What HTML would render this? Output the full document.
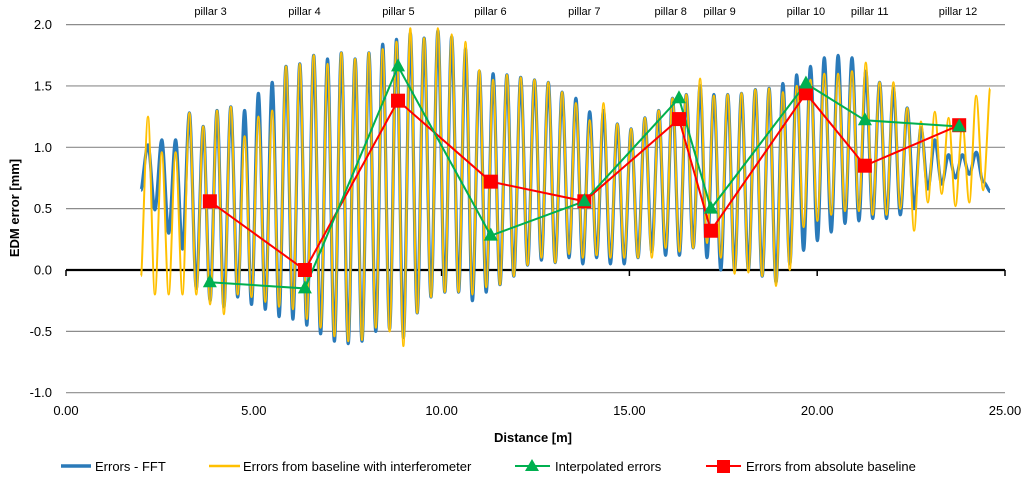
<!DOCTYPE html>
<html><head><meta charset="utf-8"><style>
body{margin:0;background:#fff;}
svg{display:block;font-family:"Liberation Sans",sans-serif;}
</style></head><body>
<svg id="chart" width="1024" height="479" viewBox="0 0 1024 479" xmlns="http://www.w3.org/2000/svg"></svg>
<script>
// ---- data ----
const yTicks = [2.0, 1.5, 1.0, 0.5, 0.0, -0.5, -1.0];
const xTicks = [0, 5, 10, 15, 20, 25];
const pillarNames = ["pillar 3","pillar 4","pillar 5","pillar 6","pillar 7","pillar 8","pillar 9","pillar 10","pillar 11","pillar 12"];
const pillarLabelX = [3.85, 6.35, 8.85, 11.3, 13.8, 16.1, 17.4, 19.7, 21.4, 23.75];
const pillarX = [3.83, 6.36, 8.84, 11.31, 13.8, 16.32, 17.17, 19.7, 21.27, 23.78];
const interpErr = [-0.1, -0.15, 1.66, 0.28, 0.56, 1.40, 0.50, 1.52, 1.22, 1.17];
const absErr = [0.56, 0.0, 1.38, 0.72, 0.56, 1.23, 0.32, 1.44, 0.85, 1.18];
const seriesStart = 2.0, seriesEnd = 24.6;
const yellowStart = -0.05;
const yellowPeaks = [1.25,0.96,0.96,1.28,1.17,1.30,1.33,1.09,1.25,1.30,1.66,1.68,1.75,1.68,1.77,1.72,1.77,1.80,1.86,1.97,1.89,1.97,1.92,
 1.86,1.63,1.55,1.59,1.57,1.55,1.53,1.45,1.36,1.22,1.36,1.19,1.15,1.24,1.30,1.40,1.43,1.56,1.42,1.43,1.44,
 1.47,1.48,1.45,1.50,1.55,1.60,1.60,1.62,1.69,1.53,1.53,1.32,1.21,1.29,1.24,1.20,1.42,1.48];
const yellowTroughs = [-0.2,-0.2,-0.2,-0.2,-0.28,-0.36,-0.2,-0.22,-0.26,-0.30,-0.32,-0.40,-0.47,-0.54,-0.58,-0.57,-0.47,-0.50,-0.62,-0.35,-0.22,-0.18,-0.18,
 -0.2,-0.14,-0.12,-0.05,0.04,0.10,0.06,0.13,0.10,0.12,0.10,0.10,0.10,0.10,0.18,0.15,0.18,0.22,0.10,-0.03,-0.02,
 -0.05,-0.13,0.0,0.35,0.40,0.45,0.48,0.48,0.45,0.45,0.50,0.32,0.55,0.62,0.52,0.55,0.65];
const blueStart = 0.65;
const bluePeaks = [1.02,1.06,1.06,1.28,1.17,1.30,1.33,1.30,1.44,1.53,1.66,1.68,1.75,1.72,1.77,1.72,1.77,1.84,1.88,1.93,1.89,1.95,1.90,
 1.80,1.62,1.60,1.59,1.57,1.55,1.53,1.45,1.40,1.29,1.30,1.19,1.15,1.24,1.30,1.40,1.43,1.50,1.43,1.43,1.44,
 1.47,1.48,1.52,1.59,1.66,1.73,1.75,1.73,1.62,1.53,1.48,1.32,1.16,1.06,0.94,0.94,0.96,0.64];
const blueTroughs = [0.49,0.30,0.17,-0.15,-0.25,-0.30,-0.22,-0.28,-0.32,-0.38,-0.40,-0.45,-0.52,-0.58,-0.60,-0.58,-0.50,-0.48,-0.55,-0.35,-0.22,-0.18,-0.18,
 -0.25,-0.18,-0.12,-0.05,0.04,0.08,0.06,0.10,0.05,0.10,0.05,0.05,0.10,0.15,0.12,0.12,0.18,0.10,0.0,0.0,0.0,
 -0.05,-0.10,0.05,0.16,0.24,0.31,0.38,0.40,0.42,0.42,0.45,0.50,0.66,0.70,0.75,0.78,0.72];

// ---- axes ----
const X = v => 66 + v * 37.56;
const Y = v => 270 - v * 122.7;
const NS = "http://www.w3.org/2000/svg";
const svg = document.getElementById("chart");
function mk(tag, attrs, parent) {
  const e = document.createElementNS(NS, tag);
  for (const k in attrs) e.setAttribute(k, attrs[k]);
  (parent || svg).appendChild(e);
  return e;
}
function seq(start, peaks, troughs) {
  const s = [start];
  for (let i = 0; i < peaks.length; i++) { s.push(peaks[i]); if (i < troughs.length) s.push(troughs[i]); }
  return s;
}
function smoothPath(vals) {
  const n = vals.length, step = (seriesEnd - seriesStart) / (n - 1);
  const p = vals.map((v, i) => [X(seriesStart + i * step), Y(v)]);
  let d = "M" + p[0][0].toFixed(1) + "," + p[0][1].toFixed(1);
  for (let i = 0; i < n - 1; i++) {
    const p0 = p[Math.max(0, i - 1)], p1 = p[i], p2 = p[i + 1], p3 = p[Math.min(n - 1, i + 2)];
    const c1x = p1[0] + (p2[0] - p0[0]) / 6, c2x = p2[0] - (p3[0] - p1[0]) / 6;
    d += "C" + c1x.toFixed(1) + "," + p1[1].toFixed(1) + " " + c2x.toFixed(1) + "," + p2[1].toFixed(1) + " " + p2[0].toFixed(1) + "," + p2[1].toFixed(1);
  }
  return d;
}

yTicks.forEach(t => {
  if (t !== 0) {
    const g = mk("line", {x1: X(0), x2: X(25), y1: Y(t), y2: Y(t), stroke: "#8c8c8c", "stroke-width": 1.2});
    
    
  }
  const l = mk("text", {x: 52, y: Y(t) + 4.5, "text-anchor": "end", "font-size": 13, fill: "#000"});
  l.textContent = t.toFixed(1);
  
  
});
const ax = mk("line", {x1: X(0), x2: X(25), y1: Y(0), y2: Y(0), stroke: "#000", "stroke-width": 2.2});


xTicks.forEach(t => {
  const tk = mk("line", {x1: X(t), x2: X(t), y1: Y(0), y2: Y(0) + 6, stroke: "#000", "stroke-width": 1.5});
  
  
  const l = mk("text", {x: X(t), y: 415, "text-anchor": "middle", "font-size": 13});
  l.textContent = t.toFixed(2);
  
  
});
const xt = mk("text", {x: 533, y: 442, "text-anchor": "middle", "font-size": 13, "font-weight": "bold"});
xt.textContent = "Distance [m]";


const yt = mk("text", {x: 0, y: 0, "text-anchor": "middle", "font-size": 13, "font-weight": "bold", transform: "translate(19,208) rotate(-90)"});
yt.textContent = "EDM error [mm]";



pillarNames.forEach((n, i) => {
  const l = mk("text", {x: X(pillarLabelX[i]), y: 15, "text-anchor": "middle", "font-size": 11});
  l.textContent = n;
  
  
});

const blue = mk("path", {d: smoothPath(seq(blueStart, bluePeaks, blueTroughs)), fill: "none", stroke: "#2a7ab9", "stroke-width": 3.2, "stroke-linejoin": "round"});


const yel = mk("path", {d: smoothPath(seq(yellowStart, yellowPeaks, yellowTroughs)), fill: "none", stroke: "#ffc000", "stroke-width": 2, "stroke-linejoin": "round"});



const rl = mk("polyline", {points: pillarX.map((x, i) => X(x) + "," + Y(absErr[i])).join(" "), fill: "none", stroke: "#ff0000", "stroke-width": 2});


const gl = mk("polyline", {points: pillarX.map((x, i) => X(x) + "," + Y(interpErr[i])).join(" "), fill: "none", stroke: "#00b050", "stroke-width": 2});


pillarX.forEach((x, i) => {
  const cx = X(x), cy = Y(absErr[i]);
  const r = mk("rect", {x: cx - 7, y: cy - 7, width: 14, height: 14, fill: "#ff0000"});
  
  
});
pillarX.forEach((x, i) => {
  const cx = X(x), cy = Y(interpErr[i]);
  const t = mk("polygon", {points: `${cx},${cy - 8} ${cx - 7},${cy + 5} ${cx + 7},${cy + 5}`, fill: "#00b050"});
  
  
});

const lg = mk("g", {});


const e1 = mk("line", {x1: 61, x2: 91, y1: 466, y2: 466, stroke: "#2a7ab9", "stroke-width": 3.5}, lg);


const t1 = mk("text", {x: 95, y: 471, "font-size": 13}, lg); t1.textContent = "Errors - FFT";


const e2 = mk("line", {x1: 209, x2: 240, y1: 466, y2: 466, stroke: "#ffc000", "stroke-width": 2.5}, lg);


const t2 = mk("text", {x: 243, y: 471, "font-size": 13}, lg); t2.textContent = "Errors from baseline with interferometer";


const e3 = mk("line", {x1: 515, x2: 550, y1: 466, y2: 466, stroke: "#00b050", "stroke-width": 2}, lg);


const m3 = mk("polygon", {points: "532,459 525,471 539,471", fill: "#00b050"}, lg);


const t3 = mk("text", {x: 555, y: 471, "font-size": 13}, lg); t3.textContent = "Interpolated errors";


const e4 = mk("line", {x1: 706, x2: 741, y1: 466, y2: 466, stroke: "#ff0000", "stroke-width": 2}, lg);


const m4 = mk("rect", {x: 717, y: 460, width: 13, height: 13, fill: "#ff0000"}, lg);


const t4 = mk("text", {x: 746, y: 471, "font-size": 13}, lg); t4.textContent = "Errors from absolute baseline";


</script>
</body></html>
